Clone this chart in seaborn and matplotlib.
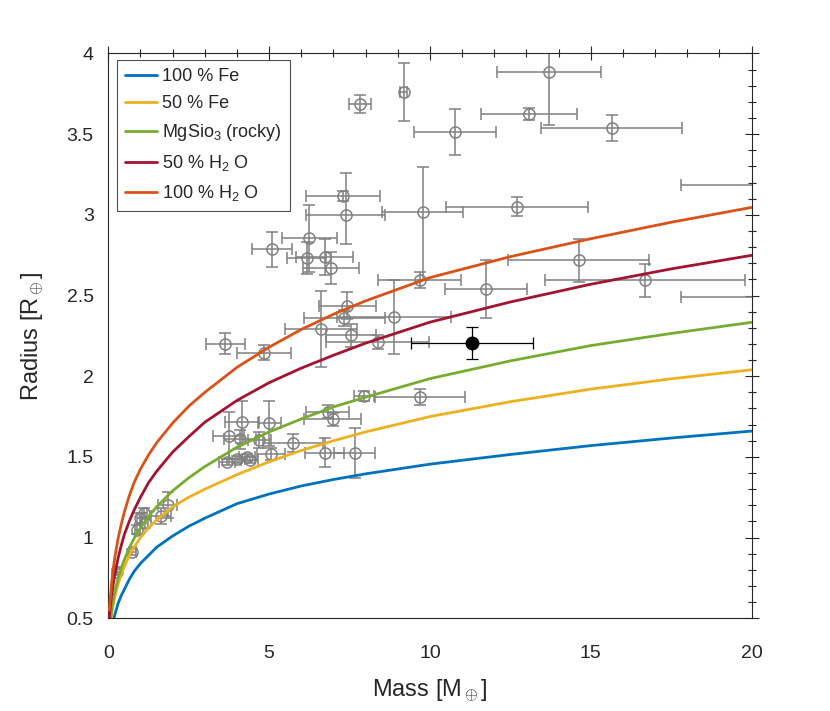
import numpy as np
import pandas as pd
import matplotlib
matplotlib.use("Agg")
import matplotlib.pyplot as plt
import seaborn as sns
from matplotlib.ticker import MultipleLocator

# model curves (mass in Earth masses, radius in Earth radii)
mass_grid = [0.03, 0.06, 0.1, 0.15, 0.2, 0.3, 0.4, 0.5, 0.65, 0.8, 1, 1.25, 1.5, 2, 2.5, 3, 4, 5, 6, 7, 8,
             10, 12.5, 15, 17.5, 20]
r_fe100 = [0.30, 0.37, 0.43, 0.48, 0.52, 0.59, 0.64, 0.68, 0.74, 0.79, 0.84, 0.89, 0.94, 1.01, 1.07, 1.12,
           1.21, 1.27, 1.32, 1.36, 1.395, 1.455, 1.515, 1.57, 1.617, 1.66]
r_fe50 = [0.36, 0.45, 0.52, 0.58, 0.63, 0.71, 0.77, 0.82, 0.89, 0.94, 1.00, 1.06, 1.11, 1.19, 1.25, 1.30,
          1.39, 1.47, 1.54, 1.60, 1.655, 1.75, 1.842, 1.92, 1.984, 2.04]
r_rocky = [0.38, 0.465, 0.545, 0.61, 0.665, 0.745, 0.81, 0.865, 0.935, 0.995, 1.06, 1.13, 1.19, 1.29, 1.37,
           1.44, 1.56, 1.655, 1.735, 1.81, 1.87, 1.985, 2.095, 2.19, 2.265, 2.334]
r_h2o50 = [0.50, 0.57, 0.64, 0.71, 0.77, 0.87, 0.95, 1.02, 1.10, 1.17, 1.25, 1.34, 1.41, 1.53, 1.625, 1.715,
           1.85, 1.96, 2.05, 2.13, 2.205, 2.335, 2.46, 2.57, 2.665, 2.749]
r_h2o100 = [0.55, 0.62, 0.71, 0.80, 0.874, 0.99, 1.08, 1.16, 1.258, 1.34, 1.425, 1.512, 1.587, 1.71, 1.814,
            1.90, 2.055, 2.18, 2.29, 2.384, 2.467, 2.611, 2.741, 2.852, 2.954, 3.046]

model_names = ["100 % Fe", "50 % Fe", r"MgSio$_3$ (rocky)", r"50 % H$_2$ O", r"100 % H$_2$ O"]
model_colors = ["#0072BD", "#EDB120", "#77AC30", "#A2142F", "#D95319"]

# known planets: mass, radius, mass error, radius error (low / high)
pl_mass = [7.83, 9.18, 13.70, 13.07, 10.78, 15.65, 7.30, 7.38, 6.25, 9.77, 12.71, 5.09, 6.17, 6.73,
           6.92, 3.64, 4.83, 6.60, 7.43, 7.34, 7.55, 8.38, 8.88, 9.68, 11.74, 14.62, 16.69, 22.0,
           22.0, 7.95, 9.68, 6.82, 6.98, 4.17, 5.01, 3.74, 4.10, 4.70, 5.74, 5.06, 6.73, 7.66,
           3.69, 4.00, 4.31, 4.39, 0.26, 0.75, 0.90, 0.97, 1.12, 1.14, 1.64, 1.85]
pl_radius = [3.686, 3.763, 3.885, 3.625, 3.513, 3.536, 3.118, 2.999, 2.854, 3.019, 3.05, 2.786, 2.731, 2.740,
             2.672, 2.201, 2.146, 2.292, 2.437, 2.361, 2.253, 2.212, 2.369, 2.596, 2.538, 2.718, 2.594, 3.187,
             2.49, 1.877, 1.869, 1.78, 1.733, 1.718, 1.708, 1.631, 1.609, 1.605, 1.588, 1.518, 1.526, 1.526,
             1.47, 1.485, 1.497, 1.48, 0.786, 0.91, 1.05, 1.12, 1.152, 1.09, 1.134, 1.202]
pl_merr = [0.34, 0.1, 1.62, 1.49, 1.27, 2.2, 1.15, 1.22, 0.86, 1.26, 2.2, 0.63, 0.6, 0.88,
           0.88, 0.61, 0.84, 1.12, 0.88, 1.25, 0.77, 1.6, 1.77, 1.3, 1.27, 2.2, 3.1, 4.2,
           4.2, 0.3, 1.4, 0.66, 0.89, 0.53, 0.36, 0.47, 0.5, 0.36, 0.93, 0.44, 0.6, 0.64,
           0.25, 0.25, 0.25, 0.25, 0.1, 0.1, 0.08, 0.08, 0.08, 0.08, 0.3, 0.3]
pl_rerr_lo = [0.055, 0.18, 0.33, 0.04, 0.145, 0.08, 0.03, 0.18, 0.21, 0.42, 0.06, 0.11, 0.1, 0.11,
              0.1, 0.065, 0.045, 0.235, 0.085, 0.05, 0.07, 0.045, 0.23, 0.05, 0.18, 0.135, 0.1, 0.05,
              0.05, 0.03, 0.05, 0.04, 0.04, 0.13, 0.14, 0.147, 0.06, 0.05, 0.055, 0.04, 0.09, 0.155,
              0.02, 0.02, 0.02, 0.02, 0.02, 0.02, 0.03, 0.03, 0.03, 0.03, 0.05, 0.08]
pl_rerr_hi = [0.055, 0.18, 0.33, 0.04, 0.145, 0.08, 0.03, 0.26, 0.21, 0.28, 0.06, 0.11, 0.1, 0.11,
              0.1, 0.065, 0.045, 0.235, 0.085, 0.05, 0.07, 0.045, 0.23, 0.05, 0.18, 0.135, 0.1, 0.05,
              0.05, 0.03, 0.05, 0.04, 0.04, 0.13, 0.14, 0.147, 0.06, 0.05, 0.055, 0.04, 0.09, 0.155,
              0.02, 0.02, 0.02, 0.02, 0.02, 0.02, 0.03, 0.03, 0.03, 0.03, 0.05, 0.08]

# the new planet
new_mass, new_radius = 11.30, 2.204
new_merr, new_rerr = 1.89, 0.1

x_ticks = [0, 5, 10, 15, 20]
y_ticks = [0.5, 1, 1.5, 2, 2.5, 3, 3.5, 4]
y_ticklabels = ["0.5", "1", "1.5", "2", "2.5", "3", "3.5", "4"]

sns.set_style("white")
plt.rcParams["font.family"] = ["Liberation Sans", "DejaVu Sans"]
plt.rcParams["mathtext.fontset"] = "custom"
plt.rcParams["mathtext.rm"] = "Liberation Sans"
plt.rcParams["mathtext.it"] = "Liberation Sans"

curves = pd.DataFrame({
    "mass": mass_grid * 5,
    "radius": r_fe100 + r_fe50 + r_rocky + r_h2o50 + r_h2o100,
    "model": sum([[m] * len(mass_grid) for m in model_names], []),
})

fig = plt.figure(figsize=(8.3, 7.11), dpi=100)
ax = fig.add_axes([0.1305, 0.1304, 0.775, 0.7944])

ax.errorbar(pl_mass, pl_radius, xerr=pl_merr, yerr=[pl_rerr_lo, pl_rerr_hi], fmt="o",
            color="#808080", mfc="none", mec="#808080", ms=8, mew=1.1, elinewidth=1.1,
            capsize=4, capthick=1.1, zorder=2)
ax.errorbar([new_mass], [new_radius], xerr=[new_merr], yerr=[new_rerr], fmt="o",
            color="black", ms=9, elinewidth=0.9, capsize=4, capthick=0.9, zorder=4)

sns.lineplot(data=curves, x="mass", y="radius", hue="model", hue_order=model_names,
             palette=model_colors, sort=False, linewidth=2.0, ax=ax, zorder=3)

ax.set_xlim(0, 20)
ax.set_ylim(0.5, 4)
ax.set_xticks(x_ticks)
ax.set_xticklabels([str(t) for t in x_ticks])
ax.set_yticks(y_ticks)
ax.set_yticklabels(y_ticklabels)
ax.xaxis.set_minor_locator(MultipleLocator(1))
ax.yaxis.set_minor_locator(MultipleLocator(0.1))
ax.tick_params(which="both", direction="inout", top=True, right=True, color="#262626",
               width=0.8, labelsize=14, labelcolor="#262626")
ax.tick_params(which="major", length=10)
ax.tick_params(which="minor", length=6)
ax.tick_params(axis="x", which="major", pad=14)
ax.tick_params(axis="y", which="major", pad=5.5)
for s in ax.spines.values():
    s.set_color("#262626")
    s.set_linewidth(0.8)

ax.set_xlabel(r"Mass [M$_\oplus$]", fontsize=17, color="#262626", labelpad=11)
ax.set_ylabel(r"Radius [R$_\oplus$]", fontsize=17, color="#262626", labelpad=15)

handles, labels = ax.get_legend_handles_labels()
leg = ax.legend(handles[-5:], labels[-5:], loc="upper left", bbox_to_anchor=(0.0135, 0.988),
                fontsize=13, frameon=True, fancybox=False, edgecolor="#262626",
                handlelength=1.75, handletextpad=0.3, labelspacing=0.55, borderpad=0.45,
                borderaxespad=0)
leg.get_frame().set_linewidth(0.8)

fig.savefig("out.png", dpi=100)
